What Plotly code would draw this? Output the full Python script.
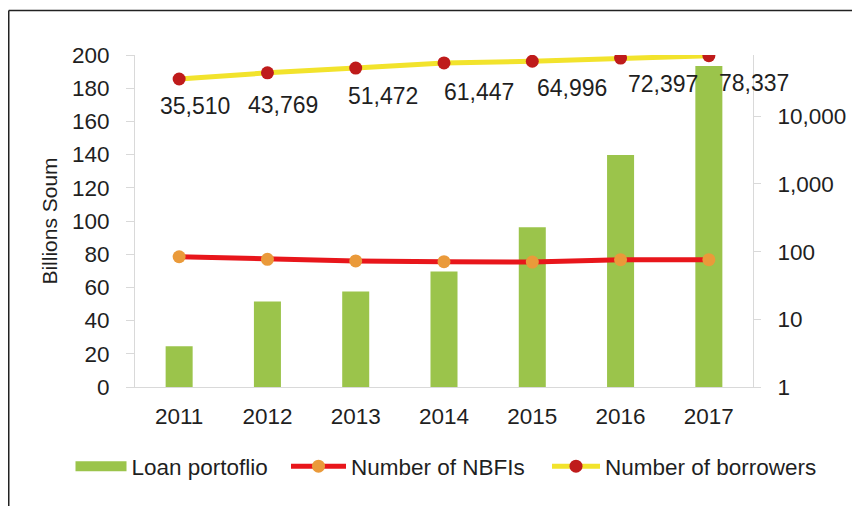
import math
import plotly.graph_objects as go

years = ["2011", "2012", "2013", "2014", "2015", "2016", "2017"]
loan_portfolio = [24.5, 51.5, 57.5, 69.6, 96.3, 139.7, 193.4]
num_nbfis = [84, 77, 73, 71, 70, 76, 76]
num_borrowers = [35510, 43769, 51472, 61447, 64996, 72397, 78337]
right_ticks = [1, 10, 100, 1000, 10000]
right_tick_text = ["1", "10", "100", "1,000", "10,000"]

# label offsets (pixels) for the borrower data labels, as placed in the original
label_dx = [16, 16, 27, 35, 40, 42, 45]
label_dy = [-27, -32, -28, -29, -27, -26, -27]

# the page body adds an 8px margin, so the figure is drawn 8px smaller
OFF = 8
W, H = 860 - OFF, 506 - OFF
ML, MR, MT, MB = 127, 107, 47, 119
PW, PH = W - ML - MR, H - MT - MB


def px(x):
    return (x - OFF - ML) / PW


def py(y):
    return 1 - (y - OFF - MT) / PH


FONT = "Liberation Sans, Arial, sans-serif"
TXT = "#1f1f1f"
AX = "#D9D9D9"
GREEN = "#9BC44B"

fig = go.Figure()
fig.add_trace(go.Bar(
    x=years, y=loan_portfolio, name="Loan portoflio",
    marker=dict(color=GREEN, line=dict(width=0)),
    yaxis="y", legendgroup="loan", showlegend=False,
))
# legend-only entry giving the wide green swatch used in the original legend
fig.add_trace(go.Scatter(
    x=[None], y=[None], name="Loan portoflio", mode="lines",
    line=dict(color=GREEN, width=11),
    legendgroup="loan", legend="legend", hoverinfo="skip",
))
fig.add_trace(go.Scatter(
    x=years, y=num_nbfis, name="Number of NBFIs", mode="lines+markers",
    line=dict(color="#E8161B", width=5),
    marker=dict(color="#EA9A3A", size=13),
    yaxis="y2", legend="legend2",
))
fig.add_trace(go.Scatter(
    x=years, y=num_borrowers, name="Number of borrowers", mode="lines+markers",
    line=dict(color="#F2E32C", width=5),
    marker=dict(color="#BF1B1B", size=13),
    yaxis="y2", legend="legend3",
))

for i, (v, dx, dy) in enumerate(zip(num_borrowers, label_dx, label_dy)):
    fig.add_annotation(
        x=i, y=math.log10(v), xref="x", yref="y2",
        text=f"{v:,}", showarrow=False,
        xshift=dx, yshift=dy,
        font=dict(family=FONT, size=23, color=TXT),
    )

# outer frame lines (top and left), as in the reference image
fig.add_shape(type="line", xref="paper", yref="paper",
              x0=px(8.75), x1=px(880), y0=py(10.5), y1=py(10.5),
              line=dict(color="#222222", width=1.5))
fig.add_shape(type="line", xref="paper", yref="paper",
              x0=px(8.75), x1=px(8.75), y0=py(10.5), y1=py(530),
              line=dict(color="#222222", width=1.5))


def legend_box(left, item_w):
    return dict(
        orientation="h", x=px(left), xanchor="left", y=py(466.5), yanchor="middle",
        font=dict(family=FONT, size=22.5, color=TXT),
        itemwidth=item_w, tracegroupgap=0, bgcolor="rgba(0,0,0,0)",
    )


fig.update_layout(
    width=W, height=H,
    margin=dict(l=ML, r=MR, t=MT, b=MB, pad=0, autoexpand=False),
    paper_bgcolor="white", plot_bgcolor="white",
    font=dict(family=FONT, size=22.5, color=TXT),
    bargap=0.694,
    showlegend=True,
    legend=legend_box(70.5, 51),
    legend2=legend_box(286, 55),
    legend3=legend_box(547, 48),
    xaxis=dict(
        type="category", range=[-0.5, 6.5],
        showline=True, linecolor=AX, linewidth=1,
        ticks="", showgrid=False, zeroline=False,
        tickfont=dict(family=FONT, size=22.5, color=TXT),
        ticklabelstandoff=9,
    ),
    yaxis=dict(
        range=[0, 200], dtick=20, showline=True, linecolor=AX, linewidth=1,
        ticks="outside", ticklen=8, tickcolor=AX, showgrid=False, zeroline=False,
        tickfont=dict(family=FONT, size=22.5, color=TXT),
        ticklabelstandoff=12,
        title=dict(text="Billions Soum", font=dict(family=FONT, size=21, color=TXT),
                   standoff=8),
    ),
    yaxis2=dict(
        type="log", range=[0, 4.905], overlaying="y", side="right",
        showline=True, linecolor=AX, linewidth=1,
        ticks="outside", ticklen=7, tickcolor=AX, showgrid=False, zeroline=False,
        tickvals=right_ticks, ticktext=right_tick_text,
        tickfont=dict(family=FONT, size=22.5, color=TXT),
        ticklabelstandoff=12,
    ),
)

fig.write_html("out.html")
